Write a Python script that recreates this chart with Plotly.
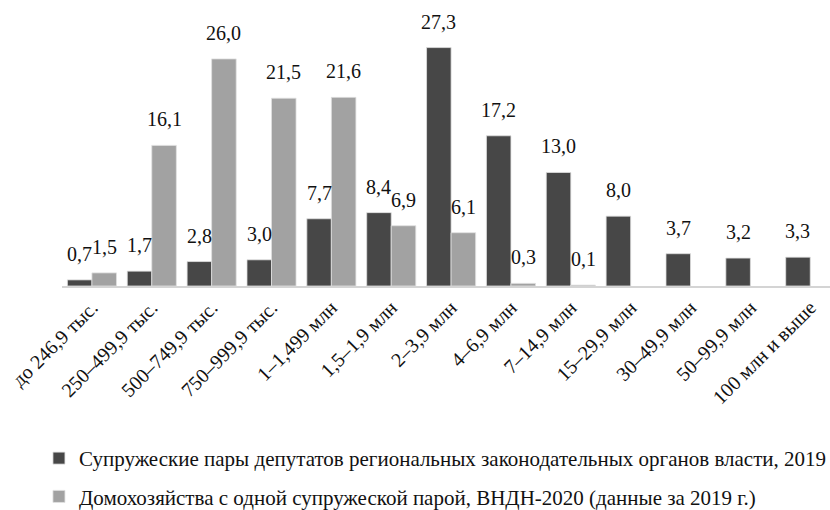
import plotly.graph_objects as go

categories = ["до 246,9 тыс.", "250–499,9 тыс.", "500–749,9 тыс.", "750–999,9 тыс.",
              "1–1,499 млн", "1,5–1,9 млн", "2–3,9 млн", "4–6,9 млн", "7–14,9 млн",
              "15–29,9 млн", "30–49,9 млн", "50–99,9 млн", "100 млн и выше"]
deputies = [0.7, 1.7, 2.8, 3.0, 7.7, 8.4, 27.3, 17.2, 13.0, 8.0, 3.7, 3.2, 3.3]
households = [1.5, 16.1, 26.0, 21.5, 21.6, 6.9, 6.1, 0.3, 0.1, None, None, None, None]
names = ["Супружеские пары депутатов региональных законодательных органов власти, 2019",
         "Домохозяйства с одной супружеской парой, ВНДН-2020 (данные за 2019 г.)"]
colors = ["#474747", "#a2a2a2"]

FONT = "Liberation Serif"

def fmt(v):
    return f"{v:.1f}".replace(".", ",")

fig = go.Figure()
for i, (vals, name, col) in enumerate(zip([deputies, households], names, colors)):
    fig.add_trace(go.Bar(
        x=categories, y=vals, name=name, legendgroup=f"g{i}",
        marker=dict(color=col, line=dict(color="#e0e0e0", width=0.8)),
        hoverinfo="skip",
    ))

annotations = []
for i, vals in enumerate([deputies, households]):
    shift = -12.3 if i == 0 else 12.3
    for c, v in zip(categories, vals):
        if v is None:
            continue
        annotations.append(dict(
            x=c, y=v, text=fmt(v), showarrow=False, xref="x", yref="y",
            xshift=shift, yshift=13, yanchor="bottom",
            font=dict(family=FONT, size=20, color="#111111"),
        ))

fig.update_layout(
    width=830, height=510,
    margin=dict(l=62, r=0, t=24, b=224, autoexpand=False),
    paper_bgcolor="white", plot_bgcolor="white",
    barmode="group", bargap=0.18, bargroupgap=0.0,
    font=dict(family=FONT, size=16, color="#111111"),
    xaxis=dict(range=[-0.5, 12.33], tickangle=-45, showgrid=False, automargin=False,
               showline=True, linecolor="#d4d4d4", linewidth=2,
               ticks="", tickfont=dict(family=FONT, size=20, color="#111111")),
    yaxis=dict(range=[0, 30], visible=False, showgrid=False, zeroline=False,
               automargin=False),
    legend=dict(orientation="v", x=-0.03, xanchor="left", y=-0.58, yanchor="top",
                traceorder="grouped", tracegroupgap=8,
                font=dict(family=FONT, size=21, color="#111111"),
                bgcolor="rgba(0,0,0,0)"),
    annotations=annotations,
    showlegend=True,
)

fig.write_html("out.html", config={"displayModeBar": False},
               post_script="document.body.style.margin='0';document.body.style.overflow='hidden';")
